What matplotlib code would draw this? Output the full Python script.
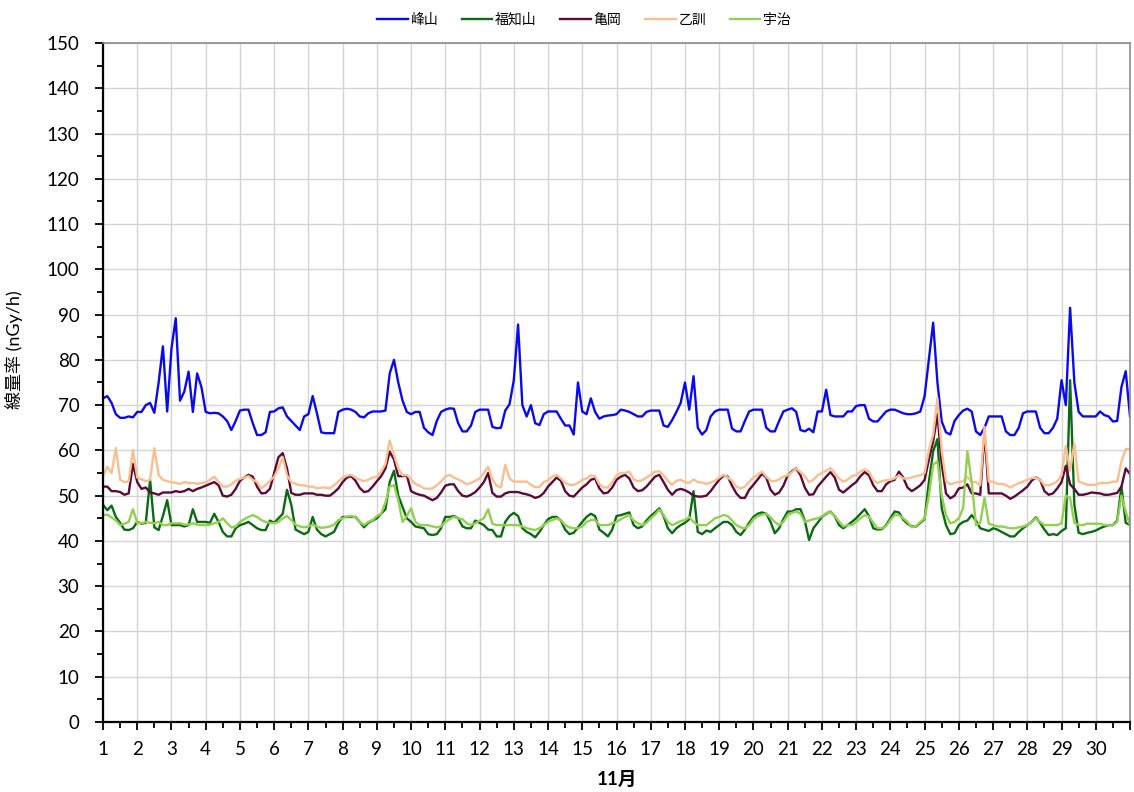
import matplotlib
matplotlib.use('Agg')
import matplotlib.pyplot as plt
import numpy as np
import pandas as pd
from matplotlib.ticker import MultipleLocator

plt.rcParams['font.family'] = ['Lato', 'Noto Sans CJK JP', 'DejaVu Sans']

# 3-hourly readings, 1 Nov 00:00 .. 1 Dec 00:00 (241 samples)
times = pd.date_range('2023-11-01 00:00', periods=241, freq='3h')

names = ['峰山', '福知山', '亀岡', '乙訓', '宇治']
colors = ['#0A0AF0', '#0B6B12', '#5C0A38', '#F9BF8F', '#92D050']

mineyama = [
    71.5, 72, 70.5, 68, 67.2, 67.2, 67.5, 67.3,
    68.5, 68.5, 70, 70.5, 68.3, 75, 83, 68.6,
    82.5, 89.2, 71, 73, 77.4, 68.5, 77, 74,
    68.5, 68.2, 68.3, 68.2, 67.5, 66.5, 64.5, 66.5,
    68.8, 69, 69, 66, 63.4, 63.4, 64, 68.5,
    68.6, 69.3, 69.5, 67.5, 66.5, 65.5, 64.5, 67.5,
    68, 72, 68.2, 64, 63.8, 63.8, 63.8, 68.5,
    69, 69.2, 69, 68.5, 67.5, 67.3, 68.2, 68.6,
    68.6, 68.6, 68.8, 77, 80, 75, 71, 68.5,
    68, 68.5, 68.5, 65, 64, 63.4, 66.5, 68.5,
    69, 69.3, 69.2, 66, 64.2, 64.2, 65.5, 68.5,
    69, 69, 69, 65.2, 64.9, 65, 68.8, 70.2,
    75.5, 87.8, 70, 67.5, 70, 66, 65.6, 68,
    68.6, 68.6, 68.6, 67, 65.5, 65.5, 63.5, 75,
    68.6, 68, 71.5, 68.5, 67, 67.5, 67.7, 67.8,
    68, 69, 68.8, 68.5, 68, 67.5, 67.5, 68.5,
    68.8, 68.8, 68.8, 65.5, 65.2, 66.7, 68.5, 70.5,
    75, 69, 76.4, 65, 63.5, 64.5, 67.5, 68.6,
    69, 69, 69, 64.8, 64.2, 64.2, 66.5, 68.6,
    69, 69, 69, 65, 64.2, 64.2, 66.5, 68.6,
    69, 69.3, 68.5, 64.5, 64.2, 64.8, 64, 68.6,
    68.6, 73.4, 67.8, 67.5, 67.5, 67.5, 68.6, 68.6,
    69.8, 70, 70, 67, 66.4, 66.4, 67.5, 68.6,
    69, 69, 68.6, 68.2, 68, 68, 68.2, 68.6,
    72, 80, 88.2, 75, 66.4, 64, 63.5, 66.5,
    67.8, 68.8, 69.2, 68.6, 64.2, 63.4, 65, 67.5,
    67.5, 67.5, 67.5, 64.2, 63.4, 63.4, 65, 68.2,
    68.6, 68.6, 68.6, 65, 63.8, 63.8, 65, 67,
    75.5, 70, 91.5, 75, 68.5, 67.5, 67.5, 67.5,
    67.5, 68.6, 67.8, 67.5, 66.4, 66.5, 74, 77.5,
    67.5,
]

fukuchiyama = [
    48, 46.8, 47.8, 45.3, 44, 42.5, 42.4, 42.8,
    44.2, 43.8, 44, 53.5, 43, 42.4, 45.5, 49,
    43.5, 43.5, 43.5, 43.2, 43.5, 47, 44.2, 44.2,
    44.2, 44, 46, 44.2, 42, 41, 41, 42.8,
    43.5, 43.8, 44.2, 43.5, 42.8, 42.4, 42.4, 44.5,
    44, 45, 46, 51.3, 48, 42.5, 42, 41.5,
    42, 45.3, 42.5, 41.5, 41, 41.5, 42, 44,
    45.3, 45.3, 45.3, 45.3, 44.2, 43, 44, 44.5,
    45, 46, 47, 53, 55.5, 50, 47.5, 45,
    44.2, 43.2, 43, 42.8, 41.5, 41.3, 41.5, 42.8,
    45.3, 45.3, 45.5, 45, 43.2, 42.8, 42.8, 44.5,
    44, 43.5, 42.5, 42.4, 41, 41, 44.2, 45.5,
    46.2, 45.5, 42.8, 42, 41.5, 40.8, 42, 43.5,
    44.8, 45.3, 45.3, 44.5, 42.5, 41.5, 41.8, 43,
    44.2, 45.3, 46, 45.5, 42.5, 41.8, 41, 42.5,
    45.5, 45.7, 46, 46.3, 43.5, 42.8, 43.2, 44.5,
    45.5, 46.3, 47.2, 45.5, 42.8, 41.7, 42.8, 43.5,
    44, 44.8, 51, 42, 41.5, 42.3, 42, 42.8,
    43.5, 44.2, 44.2, 43.5, 42, 41.3, 42.5, 44,
    45.3, 46, 46.3, 46, 44.2, 41.7, 42.8, 44.8,
    46.5, 46.5, 47, 47, 44.5, 40.2, 42.8, 44,
    45.3, 46, 46.5, 45.5, 43.5, 42.8, 43.5, 44.2,
    45, 46, 47, 45.5, 42.8, 42.5, 42.6, 43.5,
    45, 46.5, 46.3, 44.7, 43.8, 43.2, 43.2, 44,
    44.8, 53, 59.8, 62.5, 47.2, 43.5, 41.5, 41.7,
    43.5, 44.2, 44.5, 45.7, 44.5, 42.8, 42.5, 42.2,
    42.8, 42.5, 42, 41.5, 41, 41, 42, 42.8,
    43.5, 44.2, 45.2, 44, 42.5, 41.3, 41.5, 41.3,
    42.2, 42.8, 75.5, 48, 41.8, 41.5, 41.8, 42,
    42.3, 42.8, 43.2, 43.5, 43.5, 44.5, 52, 44,
    43.5,
]

kameoka = [
    52, 52, 51, 51, 50.8, 50.2, 50.5, 57,
    53, 51.5, 51.8, 50.7, 50.5, 50.2, 50.7, 50.7,
    50.7, 51, 50.8, 51, 51.5, 51, 51.5, 51.8,
    52.2, 52.6, 53, 52.3, 50, 49.8, 50.2, 51.5,
    53.3, 54, 54.6, 54.2, 52, 50.5, 50.6, 51.5,
    55, 58.5, 59.4, 56, 50.6, 50.2, 50.2, 50.5,
    50.5, 50.5, 50.2, 50.2, 50, 50, 50.7, 51.6,
    53, 54, 54.3, 53.3, 51.7, 50.8, 51, 52,
    53.2, 54.3, 56, 59.7, 58, 54.3, 54.3, 54.5,
    51, 50.5, 50.2, 50, 49.5, 49, 49.5, 50.7,
    52.2, 52.5, 52.5, 51, 50, 49.8, 50.2, 50.8,
    51.8, 53, 55, 50.6, 49.8, 49.8, 50.5, 50.8,
    50.8, 50.8, 50.5, 50.3, 50, 49.5, 49.8, 50.6,
    52, 53, 54, 53.3, 51, 50, 49.8, 50.8,
    51.8, 52.5, 53.5, 53.8, 51.6, 50.5, 50.7, 51.8,
    53.5, 54.2, 54.6, 53.8, 51.8, 51, 51.2, 52,
    53.1, 54.2, 54.6, 53, 51.3, 50.2, 51.2, 51.5,
    51.2, 50.7, 50, 49.8, 49.8, 50, 51, 52.3,
    53.5, 54.4, 54.2, 52.2, 50.5, 49.5, 49.5, 51.3,
    52.4, 53.6, 54.8, 54, 51.3, 50.2, 50.7, 52.2,
    54.5, 55.4, 56, 54.5, 51.8, 50.2, 50.3, 52,
    53.1, 54.2, 55.2, 54, 51.3, 50.7, 51.5, 52.3,
    53, 54.3, 55.2, 54.5, 52.3, 51, 51, 52.5,
    53.2, 53.5, 55.3, 54, 51.8, 51, 51.6, 52.3,
    53.5, 58, 62, 68, 57, 50.5, 49.4, 50,
    51.6, 51.8, 52.5, 50.5, 50.5, 50.2, 64, 50.5,
    50.5, 50.5, 50.5, 50, 49.3, 49.8, 50.5, 51.2,
    52, 53.3, 54, 53.5, 51, 50.2, 50.5, 51.6,
    53, 56.6, 52.5, 51.5, 50.2, 50.2, 50.4, 50.7,
    50.6, 50.5, 50.2, 50.2, 50.4, 50.6, 52, 56,
    54.8,
]

otokuni = [
    54.2, 56.4, 55, 60.5, 53.5, 53, 53.2, 60,
    54, 53.6, 53.2, 53.5, 60.5, 54.6, 53.5, 53.2,
    53, 52.8, 52.6, 53, 52.8, 52.8, 52.6, 52.8,
    53, 53.5, 54.2, 53, 52, 52, 52.5, 53.3,
    53.7, 54, 54.3, 53.5, 53, 51.6, 52.3, 53.3,
    54.2, 56, 58.5, 54.5, 53, 52.6, 52.3, 52.3,
    52, 52, 51.6, 51.8, 51.8, 51.6, 52.3, 53.1,
    54, 54.4, 54.6, 54, 53.5, 53.2, 53.5, 54,
    54.2, 55.3, 57, 62.2, 59, 56, 54.5, 54.6,
    53.6, 52.6, 52.2, 51.6, 51.5, 51.6, 52.3, 53.1,
    54.2, 54.6, 54, 53.6, 53.1, 52.5, 52.8, 53.3,
    53.8, 55, 56.4, 53.6, 52.2, 51.8, 56.8, 53.8,
    53.1, 53.1, 53.1, 53.1, 52.4, 51.9, 51.9, 53,
    53.4, 54.2, 54.6, 53.8, 52.8, 52.4, 52.4, 52.8,
    53.5, 53.8, 54.5, 54.3, 52.5, 51.8, 51.8, 53,
    54.5, 55, 55, 55.3, 53.6, 53.2, 53.4, 54,
    54.6, 55.3, 55.4, 54.5, 53.3, 52.4, 53.3, 53.5,
    53, 52.8, 53.6, 53, 52.9, 52.6, 52.9, 53.3,
    54, 54.6, 54, 53.3, 52, 51.6, 52, 53,
    54, 54.6, 55.3, 54.2, 53.3, 53.2, 53.6, 54.2,
    54.5, 55.2, 56, 55.2, 54.3, 53, 53.5, 54.5,
    55, 55.5, 56.1, 55, 53.8, 53.1, 53.5, 54.3,
    54.6, 55.3, 55.8, 55.3, 53.5, 52.8, 53.2, 53.4,
    53.5, 53.8, 54.5, 53.8, 53.8, 54, 54.3, 54.5,
    55, 60, 63.5, 71.5, 60, 53.2, 52.5, 52.8,
    53, 53.2, 54.2, 53, 53, 52.3, 65.2, 53.1,
    53.1, 52.6, 52.6, 52.4, 51.8, 52.3, 52.8, 53.1,
    53.5, 53.9, 53.9, 53.5, 52.3, 52.3, 52.6, 53.2,
    54.5, 61, 55.5, 61.5, 53.1, 52.8, 52.4, 52.4,
    52.4, 52.8, 52.8, 52.8, 53.1, 53.1, 57.5, 60.3,
    60.3,
]

uji = [
    45.7, 45.8, 45.2, 44.5, 43.5, 43.8, 44.2, 47,
    44, 43.9, 44.2, 44, 43.9, 44.2, 43.5, 43.5,
    43.9, 43.9, 43.9, 43.6, 43.6, 43.9, 43.6, 43.5,
    43.5, 43.6, 43.9, 44.2, 45, 43.9, 43, 43.2,
    44.2, 44.8, 45.3, 45.7, 45.3, 44.6, 44.2, 44,
    43.9, 44.2, 45, 45.5, 44.6, 43.6, 43.2, 43,
    43.2, 43.6, 43.2, 42.9, 43, 43.2, 43.6, 44.6,
    45, 45.4, 45.5, 45.2, 44.2, 43.5, 44.2, 44.6,
    45.5, 46, 48.5, 52, 52.3, 49, 44.2, 45.5,
    47.2, 44.2, 43.5, 43.5, 43.5, 43.2, 43, 43.2,
    44.2, 44.8, 45.3, 45, 44.8, 43.9, 43.5, 43.9,
    44.5, 45, 47, 43.8, 43.5, 43.5, 43.5, 43.5,
    43.5, 43.5, 43.2, 42.8, 42.6, 42.4, 42.8, 43.5,
    44.2, 44.6, 45, 44.6, 43.5, 43, 42.8, 42.8,
    43.2, 44.2, 44.6, 44.6, 43.5, 43.5, 43.5, 43.9,
    44.2, 44.8, 45.3, 45.7, 44.5, 43.9, 43.5, 44,
    45, 45.8, 46.9, 45.7, 44.2, 43.5, 43.9, 44.4,
    44.6, 45.3, 44.2, 43.5, 43.5, 43.5, 44.2, 45,
    45.3, 45.7, 45.5, 44.5, 43.5, 43, 42.8, 43.5,
    44.8, 45.5, 45.8, 46, 45.2, 44.2, 43.5, 44.2,
    45.7, 46.2, 46.5, 46, 44.2, 44.5, 44.8, 45,
    45.4, 46.1, 46.5, 45.5, 44.3, 43.2, 43.5, 43.5,
    44.2, 45, 45.7, 45.4, 44, 42.8, 42.8, 43.3,
    44.6, 45.7, 45.7, 45, 44.2, 43, 43.3, 44.2,
    45, 50, 56.8, 57.6, 50, 45.7, 43.9, 44.2,
    45, 47.2, 59.8, 53, 43.5, 44, 49.5, 43.8,
    43.5, 43.2, 43.2, 43, 42.8, 42.8, 43, 43.2,
    43.5, 44.2, 45, 44.2, 43.5, 43.5, 43.5, 43.5,
    43.9, 50, 49.5, 44, 43.5, 43.5, 43.8, 43.8,
    43.8, 43.8, 43.5, 43.5, 43.5, 44.2, 50, 46.5,
    43.5,
]

series = [mineyama, fukuchiyama, kameoka, otokuni, uji]

day_labels = [str(d) for d in range(1, 31)] + ['']

W, H = 1134, 792
fig = plt.figure(figsize=(W / 100, H / 100), dpi=100)
ax = fig.add_axes([103 / W, 1 - 722 / H, (1130 - 103) / W, (722 - 43) / H])

xday = 1 + (times - times[0]) / pd.Timedelta(days=1)
for name, vals, col in zip(names, series, colors):
    ax.plot(xday, vals, color=col, lw=1.7, label=name, solid_joinstyle='round')

ax.set_xlim(1, 31)
ax.set_ylim(0, 150)
ax.set_xticks(range(1, 32))
ax.set_xticklabels(day_labels)
ax.xaxis.set_minor_locator(MultipleLocator(0.5))
ax.yaxis.set_major_locator(MultipleLocator(10))
ax.yaxis.set_minor_locator(MultipleLocator(5))
ax.grid(which='major', color='#D4D4D4', lw=1.0)
ax.set_axisbelow(True)

ax.tick_params(which='major', direction='out', length=6, width=1.3,
               labelsize=13.5, color='black')
ax.tick_params(which='minor', direction='out', length=4, width=1.3, color='black')
ax.tick_params(axis='y', which='major', pad=11)
ax.tick_params(axis='x', which='major', pad=8)

for s in ['left', 'bottom']:
    ax.spines[s].set_color('black')
    ax.spines[s].set_linewidth(1.6)
for s in ['top', 'right']:
    ax.spines[s].set_color('#8C8C8C')
    ax.spines[s].set_linewidth(1.2)

ax.set_ylabel('線量率 (nGy/h)', fontsize=13)
ax.yaxis.set_label_coords(-0.078, 0.548)
ax.set_xlabel('11月', fontsize=13.5, fontweight='bold')
ax.xaxis.set_label_coords(0.5, -0.072)

fig.legend(loc='upper center', bbox_to_anchor=(0.515, 1.0), ncol=5,
           frameon=False, fontsize=10, handlelength=2.2, handletextpad=0.2,
           columnspacing=1.7)

fig.savefig('out.png', dpi=100)
